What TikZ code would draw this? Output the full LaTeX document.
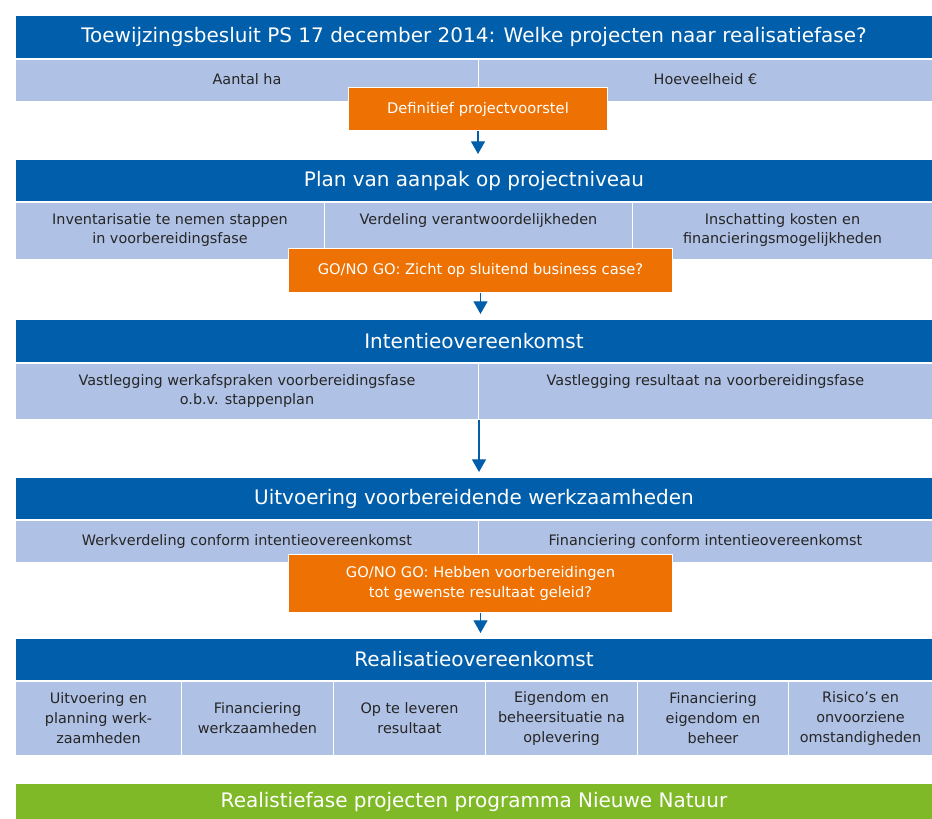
\documentclass[tikz,border=0pt]{standalone}
\usepackage{fontspec}
\setmainfont{DejaVu Sans}
\usetikzlibrary{positioning}
\usetikzlibrary{arrows.meta}
\definecolor{pnblue}{RGB}{0,94,170}
\definecolor{pnlight}{RGB}{175,193,228}
\definecolor{pnorange}{RGB}{238,114,3}
\definecolor{pngreen}{RGB}{128,185,40}

\begin{document}
\begin{tikzpicture} [x=.75pt, y=-.75pt,
  dims/.style 2 args={anchor=north west, minimum width=#1*.75pt, minimum height=#2*.75pt},
  bar/.style={fill=pnblue, draw=white, line width=.75pt, inner sep=0pt, text=white, font=\fontsize{15}{18}\selectfont},
  cell/.style={fill=pnlight, draw=white, line width=.75pt, inner sep=0pt},
  txt/.style={inner sep=0pt, align=center, text=black!85, font=\fontsize{10.8}{14.5}\selectfont},
  gobox/.style={fill=pnorange, draw=white, line width=.75pt, inner sep=0pt, text=white, align=center, font=\fontsize{11}{15}\selectfont},
  flow/.style={-{Triangle[length=9.5pt, width=10.5pt]}, pnblue, line width=.9pt, shorten >=3.75pt}]
\useasboundingbox (0,0) rectangle (932,818);

% phase bars
\node[bar, dims={917}{43}] (b1) at (15,15) {Toewijzingsbesluit PS 17 december 2014: Welke projecten naar realisatiefase?};
\node[bar, dims={917}{42}] (b2) at (15,159) {Plan van aanpak op projectniveau};
\node[bar, dims={917}{43}] (b3) at (15,319) {Intentieovereenkomst};
\node[bar, dims={917}{42}] (b4) at (15,477) {Uitvoering voorbereidende werkzaamheden};
\node[bar, dims={917}{42}] (b5) at (15,638) {Realisatieovereenkomst};
\node[bar, fill=pngreen, dims={917}{36}] (b6) at (15,783) {Realistiefase projecten programma Nieuwe Natuur};

% sub rows
\foreach \xa/\xb/\lbl [count=\i, evaluate=\xa as \w using \xb-\xa] in {15/478/{Aantal ha}, 478/932/{Hoeveelheid €}}
  {\node[cell, dims={\w}{42}] (ha\i) at (\xa,59) {};
   \node[txt, below=10.5pt of ha\i.north] (hat\i) {\lbl};}

\foreach \xa/\xb/\lbl [count=\i, evaluate=\xa as \w using \xb-\xa] in {15/324/{Inventarisatie te nemen stappen\\in voorbereidingsfase}, 324/632/{Verdeling verantwoordelijkheden}, 632/932/{Inschatting kosten en\\financieringsmogelijkheden}}
  {\node[cell, dims={\w}{57}] (pa\i) at (\xa,202) {};
   \node[txt, below=8.5pt of pa\i.north] (pat\i) {\lbl};}

\foreach \xa/\xb/\lbl [count=\i, evaluate=\xa as \w using \xb-\xa] in {15/478/{Vastlegging werkafspraken voorbereidingsfase\\o.b.v. stappenplan}, 478/932/{Vastlegging resultaat na voorbereidingsfase}}
  {\node[cell, dims={\w}{56}] (io\i) at (\xa,363) {};
   \node[txt, below=8.5pt of io\i.north] (iot\i) {\lbl};}

\foreach \xa/\xb/\lbl [count=\i, evaluate=\xa as \w using \xb-\xa] in {15/478/{Werkverdeling conform intentieovereenkomst}, 478/932/{Financiering conform intentieovereenkomst}}
  {\node[cell, dims={\w}{42}] (uv\i) at (\xa,520) {};
   \node[txt, below=10.5pt of uv\i.north] (uvt\i) {\lbl};}

\foreach \xa/\xb/\lbl [count=\i, evaluate=\xa as \w using \xb-\xa] in {15/181/{Uitvoering en\\planning werk-\\zaamheden}, 181/333/{Financiering\\werkzaamheden}, 333/485/{Op te leveren\\resultaat}, 485/637/{Eigendom en\\beheersituatie na\\oplevering}, 637/788/{Financiering\\eigendom en\\beheer}, 788/932/{Risico’s en\\onvoorziene\\omstandigheden}}
  \node[cell, txt, font=\fontsize{10.8}{15}\selectfont, dims={\w}{74}] (ro\i) at (\xa,681) {\lbl};

% go / no go
\node[gobox, dims={259}{43}] (go1) at (348,87) {Definitief projectvoorstel};
\node[gobox, dims={384}{44}] (go2) at (288,248) {GO/NO GO: Zicht op sluitend business case?};
\node[gobox, dims={384}{58}] (go3) at (288,554) {GO/NO GO: Hebben voorbereidingen\\tot gewenste resultaat geleid?};

\draw[flow] (go1.south) -- (go1.south |- b2.north);
\draw[flow] (go2.south) -- (go2.south |- b3.north);
\draw[flow] (io1.south east) -- (io1.south east |- b4.north);
\draw[flow] (go3.south) -- (go3.south |- b5.north);

\end{tikzpicture}
\end{document}
